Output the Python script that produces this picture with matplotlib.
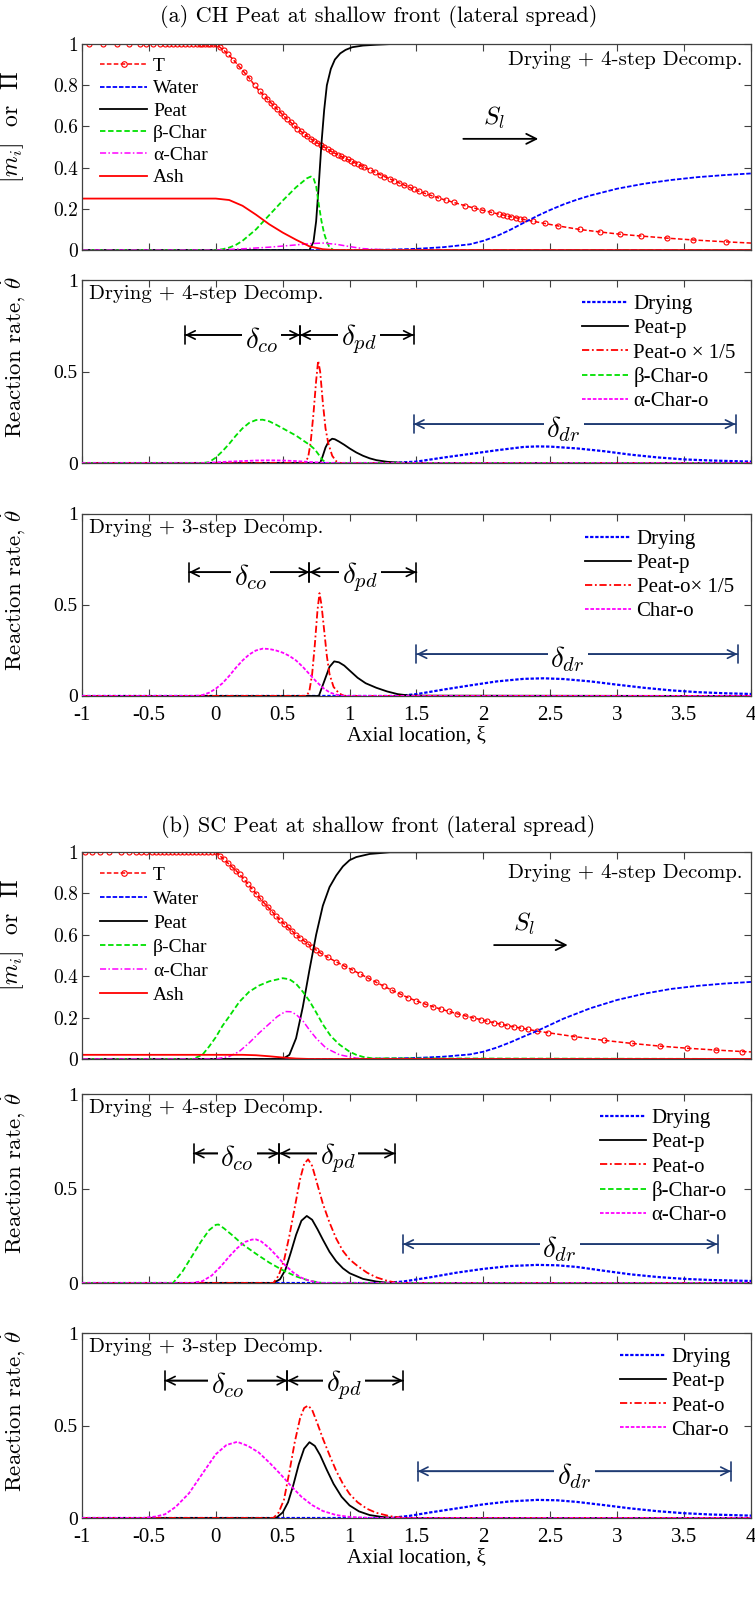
import matplotlib
matplotlib.use("Agg")
from matplotlib import pyplot as plt
from matplotlib.lines import Line2D

plt.rcParams["mathtext.fontset"] = "cm"
plt.rcParams["axes.unicode_minus"] = False

# ---------------- data ----------------
x_ticks = [-1, -0.5, 0, 0.5, 1, 1.5, 2, 2.5, 3, 3.5, 4]
x_tick_labels = ["-1", "-0.5", "0", "0.5", "1", "1.5", "2", "2.5", "3", "3.5", "4"]
y_ticks_species = [0, 0.2, 0.4, 0.6, 0.8, 1]
y_tick_labels_species = ["0", "0.2", "0.4", "0.6", "0.8", "1"]
y_ticks_rate = [0, 0.5, 1]
y_tick_labels_rate = ["0", "0.5", "1"]

species_labels = ["T", "Water", "Peat", "β-Char", "α-Char", "Ash"]

# (a) CH peat, species / temperature
T_a_x = [-0.95, -0.84, -0.74, -0.65, -0.57, -0.52, -0.47, -0.42, -0.38, -0.35, -0.32, -0.29,
         -0.26, -0.23, -0.20, -0.17, -0.14, -0.12, -0.10, -0.08, -0.06, -0.04, -0.02, 0.0,
         0.03, 0.06, 0.09, 0.13, 0.17, 0.21, 0.25, 0.29, 0.33,
         0.36, 0.385, 0.41, 0.435, 0.46, 0.485, 0.51, 0.535, 0.56, 0.585, 0.61, 0.635, 0.66,
         0.685, 0.71, 0.735, 0.76, 0.785, 0.81, 0.835, 0.86, 0.885, 0.91, 0.935, 0.96, 0.985,
         1.01, 1.035, 1.06, 1.085, 1.11,
         1.15, 1.19, 1.23, 1.26, 1.30, 1.33, 1.37, 1.41, 1.45, 1.48, 1.52, 1.56, 1.61, 1.66,
         1.72, 1.78, 1.86, 1.93, 1.99, 2.06, 2.12, 2.15, 2.18, 2.21, 2.24, 2.27, 2.30, 2.37,
         2.46, 2.56, 2.72, 2.87, 3.02, 3.18, 3.37, 3.57, 3.81, 4.0]
T_a = [1.0, 1.0, 1.0, 1.0, 1.0, 1.0, 1.0, 1.0, 1.0, 1.0, 1.0, 1.0,
       1.0, 1.0, 1.0, 1.0, 1.0, 1.0, 1.0, 1.0, 1.0, 1.0, 1.0, 1.0,
       0.985, 0.97, 0.952, 0.925, 0.895, 0.865, 0.835, 0.80, 0.77,
       0.75, 0.733, 0.716, 0.70, 0.683, 0.667, 0.65, 0.635, 0.62, 0.605, 0.59, 0.577, 0.565,
       0.552, 0.54, 0.53, 0.52, 0.51, 0.50, 0.49, 0.48, 0.472, 0.463, 0.455, 0.447, 0.44,
       0.432, 0.425, 0.418, 0.41, 0.403,
       0.39, 0.378, 0.366, 0.357, 0.346, 0.337, 0.326, 0.315, 0.304, 0.295, 0.285, 0.276, 0.265, 0.254,
       0.242, 0.231, 0.216, 0.204, 0.194, 0.183, 0.174, 0.17, 0.165, 0.161, 0.157, 0.153, 0.149, 0.14,
       0.129, 0.117, 0.10, 0.088, 0.077, 0.068, 0.058, 0.049, 0.040, 0.034]
water_a_x = [-1, 1.0, 1.3, 1.5, 1.7, 1.9, 2.0, 2.1, 2.2, 2.3, 2.4, 2.5, 2.6, 2.7, 2.8, 3.0, 3.2, 3.4, 3.6, 3.8, 4.0]
water_a = [0, 0, 0.002, 0.006, 0.014, 0.028, 0.045, 0.068, 0.098, 0.132, 0.165, 0.195, 0.222, 0.245, 0.265,
           0.298, 0.322, 0.34, 0.354, 0.364, 0.372]
peat_a_x = [-1, 0.70, 0.73, 0.75, 0.77, 0.79, 0.81, 0.83, 0.86, 0.89, 0.93, 0.97, 1.02, 1.1, 1.2, 1.3, 4]
peat_a = [0, 0, 0.04, 0.14, 0.32, 0.52, 0.68, 0.80, 0.88, 0.925, 0.955, 0.972, 0.985, 0.993, 0.997, 1.0, 1.0]
bchar_a_x = [-1, 0.0, 0.05, 0.1, 0.15, 0.2, 0.3, 0.4, 0.5, 0.6, 0.68, 0.71, 0.73, 0.75, 0.77, 0.79, 0.81, 0.83, 0.85, 0.88, 4]
bchar_a = [0, 0, 0.004, 0.012, 0.025, 0.045, 0.10, 0.17, 0.24, 0.305, 0.348, 0.357, 0.35, 0.31, 0.22, 0.14, 0.08, 0.04, 0.013, 0, 0]
achar_a_x = [-1, 0.0, 0.2, 0.4, 0.6, 0.7, 0.8, 0.9, 1.0, 1.1, 1.3, 4]
achar_a = [0, 0, 0.006, 0.014, 0.025, 0.031, 0.034, 0.028, 0.017, 0.007, 0, 0]
ash_a_x = [-1, 0.0, 0.1, 0.2, 0.3, 0.4, 0.5, 0.6, 0.7, 0.8, 0.9, 4]
ash_a = [0.25, 0.25, 0.243, 0.215, 0.172, 0.125, 0.085, 0.05, 0.018, 0.004, 0.0, 0.0]

# (b) SC peat, species / temperature
T_b_x = [-0.98, -0.925, -0.865, -0.795, -0.71, -0.645, -0.60, -0.56, -0.52, -0.48, -0.45, -0.42,
         -0.39, -0.36, -0.33, -0.30, -0.27, -0.24, -0.21, -0.18, -0.15, -0.12, -0.09, -0.06, -0.03, 0.0,
         0.03, 0.06, 0.09, 0.12, 0.15, 0.18, 0.21, 0.24, 0.27, 0.30, 0.33, 0.36, 0.39, 0.42, 0.45,
         0.48, 0.51, 0.54, 0.57, 0.60, 0.63, 0.66, 0.69, 0.72, 0.75, 0.78,
         0.84, 0.90, 0.96, 1.02, 1.08, 1.14, 1.20, 1.26, 1.32, 1.38, 1.44, 1.50, 1.56, 1.62, 1.68,
         1.74, 1.80, 1.86, 1.92, 1.98, 2.03, 2.08, 2.13, 2.18, 2.23, 2.28, 2.33, 2.40, 2.48, 2.68,
         2.90, 3.11, 3.32, 3.52, 3.74, 3.93, 4.0]
T_b = [1.0, 1.0, 1.0, 1.0, 1.0, 1.0, 1.0, 1.0, 1.0, 1.0, 1.0, 1.0,
       1.0, 1.0, 1.0, 1.0, 1.0, 1.0, 1.0, 1.0, 1.0, 1.0, 1.0, 1.0, 1.0, 1.0,
       0.982, 0.964, 0.946, 0.928, 0.91, 0.891, 0.868, 0.845, 0.822, 0.799, 0.776, 0.754, 0.733, 0.712, 0.691,
       0.671, 0.653, 0.635, 0.618, 0.60, 0.585, 0.57, 0.555, 0.54, 0.526, 0.512,
       0.49, 0.469, 0.449, 0.43, 0.41, 0.39, 0.37, 0.35, 0.331, 0.313, 0.295, 0.28, 0.266, 0.253, 0.241,
       0.23, 0.219, 0.209, 0.199, 0.19, 0.182, 0.175, 0.168, 0.161, 0.155, 0.149, 0.143, 0.135, 0.127, 0.108,
       0.09, 0.075, 0.062, 0.052, 0.043, 0.036, 0.034]
water_b_x = [-1, 1.0, 1.3, 1.5, 1.7, 1.9, 2.0, 2.1, 2.2, 2.3, 2.4, 2.5, 2.6, 2.7, 2.8, 3.0, 3.2, 3.4, 3.6, 3.8, 4.0]
water_b = [0, 0, 0.002, 0.005, 0.011, 0.022, 0.035, 0.055, 0.08, 0.108, 0.135, 0.165, 0.195, 0.22, 0.245,
           0.285, 0.315, 0.338, 0.353, 0.364, 0.372]
peat_b_x = [-1, 0.5, 0.55, 0.6, 0.65, 0.7, 0.75, 0.8, 0.85, 0.9, 0.95, 1.0, 1.05, 1.15, 1.3, 4]
peat_b = [0, 0, 0.02, 0.1, 0.25, 0.43, 0.6, 0.74, 0.83, 0.886, 0.93, 0.96, 0.975, 0.99, 0.998, 1.0]
bchar_b_x = [-1, -0.17, -0.1, -0.05, 0.0, 0.05, 0.1, 0.175, 0.25, 0.325, 0.4, 0.5, 0.55, 0.6, 0.65, 0.7,
             0.75, 0.8, 0.86, 0.925, 1.0, 1.05, 1.1, 1.17, 4]
bchar_b = [0, 0, 0.02, 0.06, 0.105, 0.16, 0.205, 0.275, 0.325, 0.355, 0.375, 0.39, 0.385, 0.363, 0.325, 0.28,
           0.225, 0.167, 0.11, 0.069, 0.035, 0.02, 0.01, 0.003, 0]
achar_b_x = [-1, 0.0, 0.1, 0.175, 0.25, 0.325, 0.4, 0.46, 0.52, 0.56, 0.6, 0.65, 0.7, 0.75, 0.825, 0.925, 1.05, 1.15, 4]
achar_b = [0, 0, 0.012, 0.036, 0.078, 0.126, 0.17, 0.205, 0.229, 0.228, 0.215, 0.185, 0.14, 0.1, 0.052, 0.02, 0.004, 0, 0]
ash_b_x = [-1, 0.2, 0.3, 0.4, 0.5, 0.6, 0.7, 4]
ash_b = [0.02, 0.02, 0.018, 0.013, 0.007, 0.002, 0, 0]

# (a) 4-step reaction rates
dry_a4_x = [-1, 1.3, 1.5, 1.7, 1.9, 2.1, 2.3, 2.4, 2.5, 2.7, 2.9, 3.1, 3.3, 3.5, 3.7, 4.0]
dry_a4 = [0, 0, 0.008, 0.03, 0.05, 0.07, 0.088, 0.091, 0.09, 0.08, 0.065, 0.046, 0.031, 0.02, 0.014, 0.008]
peatp_a4_x = [-1, 0.78, 0.80, 0.82, 0.845, 0.87, 0.89, 0.92, 0.96, 1.0, 1.05, 1.1, 1.15, 1.2, 1.28, 1.38, 1.5, 4]
peatp_a4 = [0, 0, 0.04, 0.085, 0.12, 0.133, 0.13, 0.118, 0.1, 0.08, 0.058, 0.04, 0.026, 0.016, 0.007, 0.002, 0, 0]
peato_a4_x = [-1, 0.66, 0.69, 0.71, 0.73, 0.75, 0.765, 0.78, 0.80, 0.82, 0.84, 0.87, 0.90, 0.93, 4]
peato_a4 = [0, 0, 0.03, 0.12, 0.27, 0.45, 0.56, 0.50, 0.33, 0.19, 0.11, 0.04, 0.01, 0, 0]
bchar_a4_x = [-1, -0.1, -0.05, 0.0, 0.05, 0.1, 0.15, 0.2, 0.25, 0.3, 0.35, 0.4, 0.45, 0.5, 0.55, 0.6,
              0.65, 0.7, 0.74, 0.77, 0.8, 0.83, 4]
bchar_a4 = [0, 0, 0.005, 0.03, 0.065, 0.105, 0.15, 0.19, 0.22, 0.235, 0.237, 0.228, 0.21, 0.19, 0.17, 0.15,
            0.125, 0.1, 0.075, 0.045, 0.015, 0, 0]
achar_a4_x = [-1, -0.1, 0.0, 0.1, 0.2, 0.3, 0.4, 0.5, 0.6, 0.7, 0.8, 0.9, 4]
achar_a4 = [0, 0, 0.004, 0.008, 0.011, 0.014, 0.015, 0.014, 0.011, 0.006, 0.002, 0, 0]

# (a) 3-step reaction rates
dry_a3_x = [-1, 1.35, 1.5, 1.7, 1.9, 2.1, 2.3, 2.45, 2.6, 2.8, 3.0, 3.2, 3.4, 3.6, 3.8, 4.0]
dry_a3 = [0, 0, 0.01, 0.035, 0.058, 0.08, 0.094, 0.097, 0.093, 0.08, 0.062, 0.045, 0.031, 0.021, 0.015, 0.011]
peatp_a3_x = [-1, 0.77, 0.79, 0.82, 0.85, 0.885, 0.92, 0.96, 1.0, 1.06, 1.12, 1.2, 1.28, 1.36, 1.45, 4]
peatp_a3 = [0, 0, 0.04, 0.1, 0.16, 0.19, 0.185, 0.167, 0.14, 0.1, 0.07, 0.045, 0.025, 0.01, 0.002, 0]
peato_a3_x = [-1, 0.68, 0.70, 0.72, 0.74, 0.76, 0.775, 0.79, 0.81, 0.83, 0.85, 0.88, 0.92, 0.96, 4]
peato_a3 = [0, 0, 0.03, 0.12, 0.28, 0.47, 0.565, 0.5, 0.36, 0.22, 0.12, 0.05, 0.015, 0, 0]
char_a3_x = [-1, -0.15, -0.1, -0.05, 0.0, 0.05, 0.1, 0.15, 0.2, 0.25, 0.3, 0.35, 0.4, 0.45, 0.5, 0.55,
             0.6, 0.65, 0.7, 0.75, 0.8, 0.85, 0.9, 0.96, 4]
char_a3 = [0, 0, 0.005, 0.018, 0.04, 0.07, 0.11, 0.155, 0.195, 0.228, 0.25, 0.26, 0.258, 0.25, 0.238, 0.22,
           0.195, 0.16, 0.12, 0.08, 0.045, 0.02, 0.007, 0, 0]

# (b) 4-step reaction rates
dry_b4_x = [-1, 1.25, 1.4, 1.6, 1.8, 2.0, 2.2, 2.4, 2.55, 2.7, 2.9, 3.1, 3.3, 3.5, 3.7, 4.0]
dry_b4 = [0, 0, 0.008, 0.03, 0.055, 0.075, 0.09, 0.096, 0.094, 0.085, 0.065, 0.046, 0.032, 0.022, 0.016, 0.011]
peatp_b4_x = [-1, 0.43, 0.48, 0.52, 0.56, 0.60, 0.64, 0.68, 0.72, 0.76, 0.80, 0.85, 0.9, 0.95, 1.0, 1.1, 1.2, 1.3, 4]
peatp_b4 = [0, 0, 0.02, 0.07, 0.16, 0.255, 0.33, 0.355, 0.335, 0.285, 0.23, 0.165, 0.115, 0.078, 0.052, 0.022, 0.008, 0, 0]
peato_b4_x = [-1, 0.43, 0.47, 0.51, 0.55, 0.59, 0.63, 0.66, 0.69, 0.72, 0.76, 0.8, 0.85, 0.9, 0.95, 1.0,
              1.06, 1.13, 1.2, 1.28, 1.36, 4]
peato_b4 = [0, 0, 0.04, 0.12, 0.25, 0.4, 0.55, 0.63, 0.655, 0.62, 0.52, 0.42, 0.32, 0.235, 0.17, 0.125,
            0.09, 0.055, 0.03, 0.012, 0, 0]
bchar_b4_x = [-1, -0.32, -0.25, -0.18, -0.11, -0.05, 0.0, 0.02, 0.06, 0.12, 0.2, 0.3, 0.4, 0.5, 0.6, 0.7, 0.8, 4]
bchar_b4 = [0, 0, 0.06, 0.14, 0.22, 0.28, 0.308, 0.31, 0.29, 0.255, 0.205, 0.155, 0.108, 0.068, 0.035, 0.012, 0, 0]
achar_b4_x = [-1, -0.18, -0.1, -0.03, 0.04, 0.1, 0.16, 0.22, 0.27, 0.3, 0.34, 0.4, 0.46, 0.52, 0.58, 0.64, 0.7, 0.78, 4]
achar_b4 = [0, 0, 0.01, 0.04, 0.09, 0.14, 0.185, 0.218, 0.23, 0.231, 0.22, 0.185, 0.14, 0.093, 0.055, 0.028, 0.012, 0, 0]

# (b) 3-step reaction rates
dry_b3_x = [-1, 1.3, 1.45, 1.6, 1.8, 2.0, 2.2, 2.4, 2.55, 2.7, 2.9, 3.1, 3.3, 3.5, 3.7, 4.0]
dry_b3 = [0, 0, 0.012, 0.03, 0.052, 0.074, 0.09, 0.098, 0.096, 0.087, 0.07, 0.052, 0.037, 0.026, 0.019, 0.013]
peatp_b3_x = [-1, 0.45, 0.5, 0.54, 0.58, 0.62, 0.66, 0.70, 0.74, 0.78, 0.83, 0.88, 0.94, 1.0, 1.07, 1.15, 1.25, 1.35, 4]
peatp_b3 = [0, 0, 0.03, 0.085, 0.18, 0.29, 0.375, 0.41, 0.39, 0.34, 0.26, 0.185, 0.115, 0.068, 0.036, 0.016, 0.005, 0, 0]
peato_b3_x = [-1, 0.43, 0.47, 0.51, 0.55, 0.59, 0.63, 0.66, 0.69, 0.72, 0.76, 0.8, 0.85, 0.9, 0.95, 1.0,
              1.06, 1.13, 1.2, 1.3, 1.42, 4]
peato_b3 = [0, 0, 0.03, 0.1, 0.25, 0.41, 0.54, 0.595, 0.608, 0.585, 0.51, 0.43, 0.34, 0.255, 0.185, 0.13,
            0.085, 0.05, 0.028, 0.01, 0, 0]
char_b3_x = [-1, -0.55, -0.45, -0.38, -0.3, -0.2, -0.1, 0.0, 0.08, 0.16, 0.24, 0.32, 0.4, 0.48, 0.56, 0.64,
             0.72, 0.8, 0.9, 1.0, 1.17, 4]
char_b3 = [0, 0, 0.008, 0.02, 0.06, 0.134, 0.24, 0.345, 0.395, 0.412, 0.39, 0.355, 0.3, 0.24, 0.175, 0.115,
           0.07, 0.038, 0.016, 0.006, 0, 0]

# zone markers: (left bar, right bar, height, label x)
zones_a4 = {"co": (-0.23, 0.63, 0.70, 0.34), "pd": (0.63, 1.48, 0.70, 1.07), "dr": (1.48, 3.885, 0.213, 2.6)}
zones_a3 = {"co": (-0.20, 0.70, 0.68, 0.26), "pd": (0.70, 1.50, 0.68, 1.08), "dr": (1.50, 3.90, 0.23, 2.63)}
zones_b4 = {"co": (-0.165, 0.475, 0.686, 0.16), "pd": (0.475, 1.34, 0.686, 0.91), "dr": (1.40, 3.75, 0.206, 2.57)}
zones_b3 = {"co": (-0.38, 0.535, 0.743, 0.09), "pd": (0.535, 1.40, 0.743, 0.96), "dr": (1.51, 3.85, 0.253, 2.68)}

RED = "#ff0000"
BLUE = "#0000ff"
GREEN = "#00e000"
MAGENTA = "#ff00ff"
NAVY = "#1f3b73"
AXCOL = "#404040"
CM = "cmr10"
TIMES = "Liberation Serif"

T_LS = (0, (3, 1.5))
DOT = (0, (1.5, 0.8))
DASHDOT = (0, (4, 1.5, 1, 1.5))
DASH = (0, (3, 1.5))
SHORT = (0, (2, 1))


def style_axes(ax, yticks, ylabels, tick_family, show_x):
    ax.set_xlim(-1, 4)
    ax.set_ylim(0, 1)
    ax.set_xticks(x_ticks)
    ax.set_yticks(yticks)
    ax.set_yticklabels(ylabels, fontfamily=tick_family, fontsize=14)
    if show_x:
        ax.set_xticklabels(x_tick_labels, fontfamily=tick_family, fontsize=15)
        ax.set_xlabel("Axial location, ξ", fontfamily=TIMES, fontsize=15, labelpad=1)
        ax.tick_params(axis="x", pad=7)
    else:
        ax.set_xticklabels([])
    ax.tick_params(direction="in", top=True, right=True, length=5, width=0.8, color=AXCOL)
    ax.tick_params(axis="y", pad=3)
    for sp in ax.spines.values():
        sp.set_color(AXCOL)
        sp.set_linewidth(0.9)


def plot_species(ax, T_x, T_y, wx, wy, px, py, bx, by, ax_x, ay, sx, sy,
                 legend_top, spacing, text_y, sl_arrow):
    # T line runs to x=4, its markers stop at the last grid marker
    ax.plot(T_x, T_y, color=RED, ls=T_LS, lw=1.1)
    ax.plot(T_x[:-1], T_y[:-1], ls="none", marker="o", ms=3.6, mfc="none", mec=RED, mew=0.8)
    ax.plot(wx, wy, color=BLUE, ls=(0, (2.5, 1)), lw=1.3)
    ax.plot(px, py, color="k", lw=1.3)
    ax.plot(bx, by, color=GREEN, ls=DASH, lw=1.3)
    ax.plot(ax_x, ay, color=MAGENTA, ls=DASHDOT, lw=1.1)
    ax.plot(sx, sy, color=RED, lw=1.3)
    handles = [Line2D([], [], color=RED, ls=T_LS, lw=1.1, marker="o", ms=4, mfc="none", mew=0.8),
               Line2D([], [], color=BLUE, ls=(0, (2.5, 1)), lw=1.3),
               Line2D([], [], color="k", lw=1.3),
               Line2D([], [], color=GREEN, ls=DASH, lw=1.3),
               Line2D([], [], color=MAGENTA, ls=DASHDOT, lw=1.1),
               Line2D([], [], color=RED, lw=1.3)]
    style_axes(ax, y_ticks_species, y_tick_labels_species, CM, False)
    ax.set_ylabel(r"$[m_i]$  or  $\Pi$", fontfamily=CM, fontsize=17)
    ax.yaxis.set_label_coords(-0.084, 0.6)
    ax.legend(handles, species_labels, loc="upper left", bbox_to_anchor=(0.027, legend_top),
              frameon=False, prop={"family": TIMES, "size": 14}, handlelength=2.42,
              handletextpad=0.3, labelspacing=spacing, borderpad=0, borderaxespad=0)
    ax.text(0.988, text_y, "Drying + 4-step Decomp.", transform=ax.transAxes,
            ha="right", va="center", fontfamily=CM, fontsize=15)
    x0, x1, y = sl_arrow
    ax.annotate("", xy=(x1, y), xytext=(x0, y),
                arrowprops=dict(arrowstyle="->", color="k", lw=1.3, mutation_scale=18,
                                shrinkA=0, shrinkB=0))
    ax.text((x0 + x1) / 2 - 0.05, y + 0.1, r"$S_l$", fontsize=18, ha="center", va="center")


def draw_zone(ax, x0, x1, y, xl, label, color):
    for style in ("<->", "|-|,widthA=0.45,widthB=0.45"):
        ax.annotate("", xy=(x0, y), xytext=(x1, y), zorder=2,
                    arrowprops=dict(arrowstyle=style, color=color, lw=1.2,
                                    mutation_scale=15, shrinkA=0, shrinkB=0))
    ax.text(xl, y - 0.025, label, fontsize=21, ha="center", va="center", zorder=3,
            bbox=dict(facecolor="white", edgecolor="none", pad=2.0))


def plot_rates(ax, curves, text, zones, legend_x, legend_top):
    for xs, ys, color, ls, lw, lab in curves:
        ax.plot(xs, ys, color=color, ls=ls, lw=lw, label=lab, zorder=4)
    style_axes(ax, y_ticks_rate, y_tick_labels_rate, TIMES, False)
    ax.set_ylabel(r"Reaction rate, $\dot{\theta}$", fontfamily=CM, fontsize=16.5)
    ax.yaxis.set_label_coords(-0.082, 0.58)
    ax.legend(loc="upper left", bbox_to_anchor=(legend_x, legend_top), frameon=False,
              prop={"family": TIMES, "size": 15}, handlelength=2.2, handletextpad=0.27,
              labelspacing=0.22, borderpad=0, borderaxespad=0)
    ax.text(0.01, 0.925, text, transform=ax.transAxes, ha="left", va="center",
            fontfamily=CM, fontsize=15)
    draw_zone(ax, *zones["co"], r"$\delta_{co}$", "k")
    draw_zone(ax, *zones["pd"], r"$\delta_{pd}$", "k")
    draw_zone(ax, *zones["dr"], r"$\delta_{dr}$", NAVY)


fig = plt.figure(figsize=(7.55, 16.04), dpi=100)
L, W = 0.1086, 0.8861
ax1 = fig.add_axes([L, 0.8441, W, 0.1284])
ax2 = fig.add_axes([L, 0.7113, W, 0.1141])
ax3 = fig.add_axes([L, 0.5661, W, 0.1135])
ax4 = fig.add_axes([L, 0.3398, W, 0.1291])
ax5 = fig.add_axes([L, 0.2001, W, 0.1178])
ax6 = fig.add_axes([L, 0.0536, W, 0.1153])

plot_species(ax1, T_a_x, T_a, water_a_x, water_a, peat_a_x, peat_a, bchar_a_x, bchar_a,
             achar_a_x, achar_a, ash_a_x, ash_a, 0.935, 0.24, 0.922, (1.85, 2.41, 0.54))
plot_species(ax4, T_b_x, T_b, water_b_x, water_b, peat_b_x, peat_b, bchar_b_x, bchar_b,
             achar_b_x, achar_b, ash_b_x, ash_b, 0.931, 0.33, 0.90, (2.08, 2.63, 0.55))

plot_rates(ax2, [(dry_a4_x, dry_a4, BLUE, DOT, 1.6, "Drying"),
                 (peatp_a4_x, peatp_a4, "k", "-", 1.3, "Peat-p"),
                 (peato_a4_x, peato_a4, RED, DASHDOT, 1.3, "Peat-o × 1/5"),
                 (bchar_a4_x, bchar_a4, GREEN, DASH, 1.3, "β-Char-o"),
                 (achar_a4_x, achar_a4, MAGENTA, SHORT, 1.3, "α-Char-o")],
           "Drying + 4-step Decomp.", zones_a4, 0.747, 0.92)
plot_rates(ax3, [(dry_a3_x, dry_a3, BLUE, DOT, 1.6, "Drying"),
                 (peatp_a3_x, peatp_a3, "k", "-", 1.3, "Peat-p"),
                 (peato_a3_x, peato_a3, RED, DASHDOT, 1.3, "Peat-o× 1/5"),
                 (char_a3_x, char_a3, MAGENTA, SHORT, 1.3, "Char-o")],
           "Drying + 3-step Decomp.", zones_a3, 0.752, 0.915)
plot_rates(ax5, [(dry_b4_x, dry_b4, BLUE, DOT, 1.6, "Drying"),
                 (peatp_b4_x, peatp_b4, "k", "-", 1.3, "Peat-p"),
                 (peato_b4_x, peato_b4, RED, DASHDOT, 1.3, "Peat-o"),
                 (bchar_b4_x, bchar_b4, GREEN, DASH, 1.3, "β-Char-o"),
                 (achar_b4_x, achar_b4, MAGENTA, SHORT, 1.3, "α-Char-o")],
           "Drying + 4-step Decomp.", zones_b4, 0.774, 0.923)
plot_rates(ax6, [(dry_b3_x, dry_b3, BLUE, DOT, 1.6, "Drying"),
                 (peatp_b3_x, peatp_b3, "k", "-", 1.3, "Peat-p"),
                 (peato_b3_x, peato_b3, RED, DASHDOT, 1.3, "Peat-o"),
                 (char_b3_x, char_b3, MAGENTA, SHORT, 1.3, "Char-o")],
           "Drying + 3-step Decomp.", zones_b3, 0.804, 0.921)

style_axes(ax3, y_ticks_rate, y_tick_labels_rate, TIMES, True)
style_axes(ax6, y_ticks_rate, y_tick_labels_rate, TIMES, True)

fig.text(0.501, 1 - 16 / 1604, "(a) CH Peat at shallow front (lateral spread)",
         ha="center", va="center", fontfamily=CM, fontsize=16)
fig.text(0.501, 1 - 827 / 1604, "(b) SC Peat at shallow front (lateral spread)",
         ha="center", va="center", fontfamily=CM, fontsize=16)

fig.savefig("out.png", dpi=100)
